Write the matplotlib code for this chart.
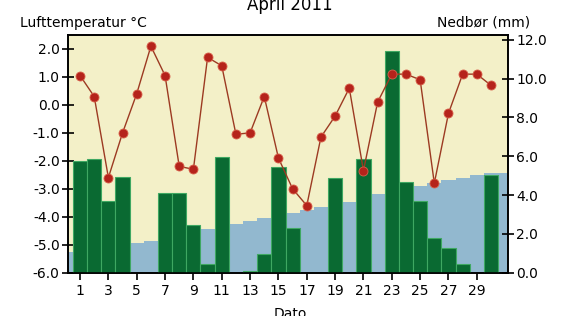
import matplotlib
matplotlib.use('Agg')
import matplotlib.pyplot as plt
import numpy as np

# Data
days = np.arange(1, 31)
temperature = [1.05, 0.3, -2.6, -1.0, 0.4, 2.1, 1.05, -2.2, -2.3, 1.7,
               1.4, -1.05, -1.0, 0.3, -1.9, -3.0, -3.6, -1.15, -0.4, 0.6,
               -2.35, 0.1, 1.1, 1.1, 0.9, -2.8, -0.3, 1.1, 1.1, 0.7]
normal_temp = [-5.27, -5.15, -5.05, -4.98, -4.93, -4.86, -4.78, -4.7, -4.55, -4.45,
               -4.33, -4.25, -4.15, -4.05, -3.98, -3.85, -3.75, -3.65, -3.55, -3.46,
               -3.35, -3.19, -3.1, -3.0, -2.9, -2.8, -2.7, -2.6, -2.5, -2.42]
precip = [5.75, 5.85, 3.7, 4.95, 0.0, 0.0, 4.1, 4.1, 2.45, 0.45,
          5.95, 0.0, 0.1, 0.95, 5.45, 2.3, 0.0, 0.0, 4.9, 0.0,
          5.85, 0.0, 11.4, 4.7, 3.7, 1.8, 1.25, 0.45, 0.0, 5.05]
xticks = list(range(1, 30, 2))
temp_ticks = np.arange(-6.0, 2.1, 1.0)
precip_ticks = np.arange(0.0, 12.1, 2.0)

fig = plt.figure(figsize=(5.67, 3.16), dpi=100)
ax = fig.add_axes([68/567, 1-272.7/316, (508-68)/567, (272.7-35)/316])
ax2 = ax.twinx()

xmin, xmax = 0.15, 31.2
ymin, ymax = -6.0, 2.5

# Background + normal temperature (left axis), behind everything
ax.set_facecolor('#f3f0c8')
xs = np.concatenate([[xmin], days, [xmax]])
ns = np.concatenate([[normal_temp[0]], normal_temp, [normal_temp[-1]]])
ax.fill_between(xs, ymin, ns, step='mid', color='#92b8cf', lw=0, zorder=1)

# Precipitation bars (right axis)
ax2.bar(days, precip, width=1.0, color='#0a6a32', edgecolor='#3fa862', lw=0.8, zorder=2)
ax2.set_ylim(0, 12.25)
ax2.set_yticks(precip_ticks)
ax2.set_yticklabels(['%.1f' % v for v in precip_ticks])

# Temperature line drawn on top axes, in left-axis coordinates
ax2.plot(days, temperature, color='#9c3a22', lw=1.0, marker='o', ms=6.5,
         mfc='#b5231b', mec='#d8604a', mew=0.6, zorder=5, transform=ax.transData)

ax.set_xlim(xmin, xmax)
ax.set_ylim(ymin, ymax)
ax.set_xticks(xticks)
ax.set_yticks(temp_ticks)
ax.set_yticklabels(['%.1f' % v for v in temp_ticks])

for a in (ax, ax2):
    for s in a.spines.values():
        s.set_color('black')
        s.set_linewidth(1.2)
ax.tick_params(axis='x', direction='out', length=5, width=1.2, labelsize=10, pad=3)
ax.tick_params(axis='y', direction='inout', length=8, width=1.2, labelsize=10, pad=2)
ax2.tick_params(axis='y', direction='inout', length=8, width=1.2, labelsize=10, pad=2)

fig.text(20/567, 1-27/316, 'Lufttemperatur °C', fontsize=10, ha='left', va='baseline')
fig.text(530/567, 1-27/316, 'Nedbør (mm)', fontsize=10, ha='right', va='baseline')
fig.text(290/567, 1-10/316, 'April 2011', fontsize=12, ha='center', va='baseline')
fig.text(290/567, -2/316, 'Dato', fontsize=10, ha='center', va='baseline')

fig.savefig('out.png', dpi=100)
